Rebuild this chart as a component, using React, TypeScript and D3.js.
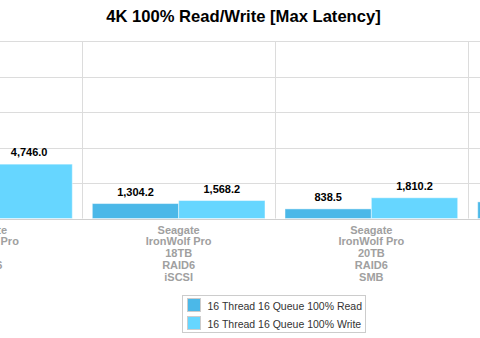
import React from "react";
import * as d3 from "d3";

const title = "4K 100% Read/Write [Max Latency]";
const categories = [
  ["Seagate", "IronWolf Pro", "18TB", "RAID6", "SMB"],
  ["Seagate", "IronWolf Pro", "18TB", "RAID6", "iSCSI"],
  ["Seagate", "IronWolf Pro", "20TB", "RAID6", "SMB"],
  ["Seagate", "IronWolf Pro", "20TB", "RAID6", "iSCSI"],
];
const seriesNames = ["16 Thread 16 Queue 100% Read", "16 Thread 16 Queue 100% Write"];
const readValues = [3120.4, 1304.2, 838.5, 1450.0];
const writeValues = [4746.0, 1568.2, 1810.2, 1950.0];
const yTicks = [0, 3100, 6200, 9300, 12400, 15500];
const colors = ["#4BB8E8", "#66D6FF"];

const W = 480;
const H = 338;
const FONT = "'Liberation Sans', Arial, Helvetica, sans-serif";

export default function App() {
  const plotTop = 41;
  const plotBottom = 218.5;
  const x = d3
    .scaleBand<number>()
    .domain(categories.map((_, i) => i))
    .range([-110.4, -110.4 + 192.7 * categories.length])
    .paddingInner(0)
    .paddingOuter(0);
  const xs = d3
    .scaleBand<number>()
    .domain([0, 1])
    .range([0, x.bandwidth()])
    .paddingInner(0)
    .paddingOuter(0.116);
  const y = d3.scaleLinear().domain([0, yTicks[yTicks.length - 1]]).range([plotBottom, plotTop]);
  const fmt = d3.format(",.1f");
  const series = [readValues, writeValues];

  const vlines = categories.map((_, i) => x(i)!).concat([x(categories.length - 1)! + x.bandwidth()]);
  const visible = (cx: number, halfW: number) => cx + halfW > 0 && cx - halfW < W;

  return (
    <svg
      width={W}
      height={H}
      style={{ position: "absolute", left: 0, top: 0, background: "#fff" }}
      fontFamily={FONT}
    >
      <rect x={0} y={0} width={W} height={H} fill="#fff" />
      <text x={243.5} y={22} textAnchor="middle" fontSize={16.6} fontWeight="bold" fill="#000">
        {title}
      </text>
      {yTicks.slice(1).map((t) => (
        <line key={t} x1={0} x2={W} y1={Math.round(y(t)) + 0.5} y2={Math.round(y(t)) + 0.5} stroke="#dcdcdc" strokeWidth={1} />
      ))}
      {vlines.map((vx, i) => (
        <line key={i} x1={Math.round(vx) + 0.5} x2={Math.round(vx) + 0.5} y1={plotTop} y2={plotBottom} stroke="#dcdcdc" strokeWidth={1} />
      ))}
      {categories.map((_, ci) =>
        series.map((vals, si) => {
          const bx = x(ci)! + xs(si)!;
          const top = y(vals[ci]);
          return (
            <rect
              key={`${ci}-${si}`}
              x={bx}
              y={top}
              width={xs.bandwidth()}
              height={plotBottom - top}
              fill={colors[si]}
              stroke="#ffffff"
              strokeOpacity={0.45}
              strokeWidth={1}
            />
          );
        })
      )}
      <line x1={0} x2={W} y1={Math.round(plotBottom) + 0.5} y2={Math.round(plotBottom) + 0.5} stroke="#d0d0d0" strokeWidth={1} />
      {categories.map((_, ci) =>
        series.map((vals, si) => {
          const cx = x(ci)! + xs(si)! + xs.bandwidth() / 2;
          if (!visible(cx, 20)) return null;
          return (
            <text key={`l-${ci}-${si}`} x={cx} y={y(vals[ci]) - 8} textAnchor="middle" fontSize={11} fontWeight="bold" fill="#000">
              {fmt(vals[ci])}
            </text>
          );
        })
      )}
      {categories.map((lines, ci) => {
        const cx = x(ci)! + x.bandwidth() / 2;
        if (!visible(cx, 40)) return null;
        return (
          <text key={`c-${ci}`} textAnchor="middle" fontSize={11} fontWeight="bold" fill="#a0a0a0">
            {lines.map((ln, li) => (
              <tspan key={li} x={cx} y={233.5 + li * 11.9}>
                {ln}
              </tspan>
            ))}
          </text>
        );
      })}
      <rect x={182.5} y={295.5} width={183} height={37} fill="none" stroke="#cccccc" strokeWidth={1} />
      {seriesNames.map((name, i) => (
        <g key={name}>
          <rect x={187.5} y={298.5 + i * 18} width={13} height={13} fill={colors[i]} stroke="#cccccc" strokeWidth={1} />
          <text x={207.5} y={309.5 + i * 18} fontSize={10.5} fill="#333">
            {name}
          </text>
        </g>
      ))}
    </svg>
  );
}
